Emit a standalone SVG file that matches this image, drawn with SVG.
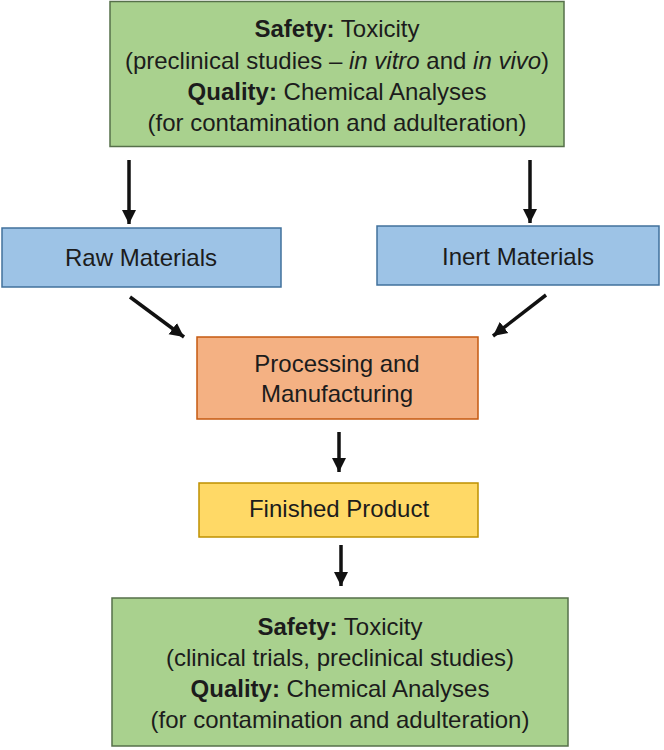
<svg xmlns="http://www.w3.org/2000/svg" width="664" height="750" viewBox="0 0 664 750">
<defs>
<marker id="ah" markerUnits="userSpaceOnUse" markerWidth="16" markerHeight="16" viewBox="0 0 16 16" refX="14" refY="8" orient="auto">
<path d="M0,1 L14,8 L0,15 Z" fill="#111"/>
</marker>
<style>
text{font-family:"Liberation Sans",Arial,sans-serif;font-size:24px;fill:#1c1c1c;text-anchor:middle}
.b{font-weight:bold}
.i{font-style:italic}
.green{fill:#A9D18E;stroke:#56704A;stroke-width:1.5}
.blue{fill:#9DC3E6;stroke:#41719C;stroke-width:1.5}
.orange{fill:#F4B183;stroke:#C55A11;stroke-width:1.5}
.yellow{fill:#FFD966;stroke:#BF9000;stroke-width:1.5}
.conn line{stroke:#111;stroke-width:3.5;marker-end:url(#ah)}
</style>
</defs>
<rect width="664" height="750" fill="#fff"/>
<g id="top">
<rect class="green" x="110" y="1.5" width="454" height="145"/>
<text x="337" y="37"><tspan class="b">Safety:</tspan> Toxicity</text>
<text x="337" y="69">(preclinical studies – <tspan class="i">in vitro</tspan> and <tspan class="i">in vivo</tspan>)</text>
<text x="337" y="100"><tspan class="b">Quality:</tspan> Chemical Analyses</text>
<text x="337" y="131">(for contamination and adulteration)</text>
</g>
<g id="raw">
<rect class="blue" x="2" y="228" width="279" height="59"/>
<text x="141" y="266">Raw Materials</text>
</g>
<g id="inert">
<rect class="blue" x="377" y="226" width="282" height="59"/>
<text x="518" y="265">Inert Materials</text>
</g>
<g id="processing">
<rect class="orange" x="197" y="337" width="281" height="82"/>
<text x="337" y="372">Processing and</text>
<text x="337" y="402">Manufacturing</text>
</g>
<g id="finished">
<rect class="yellow" x="199" y="483" width="279" height="54"/>
<text x="339" y="517">Finished Product</text>
</g>
<g id="bottom">
<rect class="green" x="112" y="598" width="456" height="148"/>
<text x="340" y="635"><tspan class="b">Safety:</tspan> Toxicity</text>
<text x="340" y="666">(clinical trials, preclinical studies)</text>
<text x="340" y="697"><tspan class="b">Quality:</tspan> Chemical Analyses</text>
<text x="340" y="728">(for contamination and adulteration)</text>
</g>
<g id="connectors" class="conn">
<line x1="129" y1="160" x2="129" y2="224"/>
<line x1="530" y1="160" x2="530" y2="223"/>
<line x1="130" y1="297" x2="184" y2="337"/>
<line x1="546" y1="295" x2="493" y2="336"/>
<line x1="339" y1="432" x2="339" y2="472"/>
<line x1="341" y1="545" x2="341" y2="586"/>
</g>
</svg>
